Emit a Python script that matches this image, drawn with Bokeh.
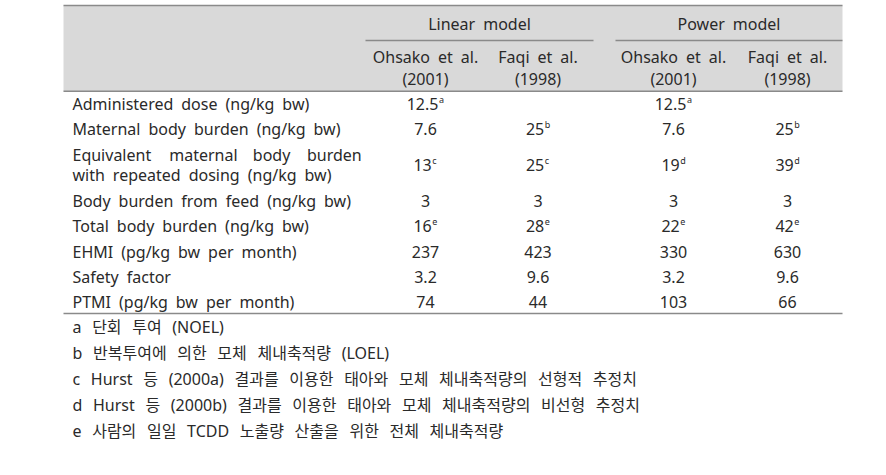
from bokeh.plotting import figure
from bokeh.models import Range1d
from bokeh.core.properties import value
from bokeh.embed import file_html
from bokeh.resources import INLINE

# ---------------- data ----------------
model_names = ["Linear model", "Power model"]
study_names = ["Ohsako et al.", "Faqi et al.", "Ohsako et al.", "Faqi et al."]
study_years = ["(2001)", "(1998)", "(2001)", "(1998)"]

row_labels = [
    ["Administered dose (ng/kg bw)"],
    ["Maternal body burden (ng/kg bw)"],
    ["Equivalent maternal body burden", "with repeated dosing (ng/kg bw)"],
    ["Body burden from feed (ng/kg bw)"],
    ["Total body burden (ng/kg bw)"],
    ["EHMI (pg/kg bw per month)"],
    ["Safety factor"],
    ["PTMI (pg/kg bw per month)"],
]

linear_ohsako = ["12.5", "7.6", "13", "3", "16", "237", "3.2", "74"]
linear_ohsako_note = ["a", "", "c", "", "e", "", "", ""]
linear_faqi = ["", "25", "25", "3", "28", "423", "9.6", "44"]
linear_faqi_note = ["", "b", "c", "", "e", "", "", ""]
power_ohsako = ["12.5", "7.6", "19", "3", "22", "330", "3.2", "103"]
power_ohsako_note = ["a", "", "d", "", "e", "", "", ""]
power_faqi = ["", "25", "39", "3", "42", "630", "9.6", "66"]
power_faqi_note = ["", "b", "d", "", "e", "", "", ""]

footnotes = [
    "a 단회 투여 (NOEL)",
    "b 반복투여에 의한 모체 체내축적량 (LOEL)",
    "c Hurst 등 (2000a) 결과를 이용한 태아와 모체 체내축적량의 선형적 추정치",
    "d Hurst 등 (2000b) 결과를 이용한 태아와 모체 체내축적량의 비선형 추정치",
    "e 사람의 일일 TCDD 노출량 산출을 위한 전체 체내축적량",
]

# ---------------- layout ----------------
W, H = 870, 459
FONT = value("Noto Sans")
KFONT = value("Noto Sans, Noto Sans CJK KR")
FS = 16
TXT = "#2a2a2a"
LINE = "#8a8a8a"
GRAY = "#d9d9d9"

left, right = 63, 842
head_top, head_bot = 5, 90.7
sub_y = 40
lin_x0, lin_x1 = 365, 593
pow_x0, pow_x1 = 615, 842
col_x = [425, 537.5, 673, 787]
label_x = 72
label_right = 357
row_h = 25.4
row_h2 = 46

# the source uses wide word spacing; mimic it with wider space characters
WIDE = "\u2002"
WIDER = "\u2002\u2009"


def wide(s, sp=WIDE):
    return s.replace(" ", sp)


# char width table (em) for Noto Sans, used for centering/justifying
CW = {c: 0.572 for c in "0123456789"}
CW.update({".": 0.268, " ": 0.26})


def est_w(s, fs):
    tot = 0.0
    for c in s:
        if c in CW:
            tot += CW[c]
        elif c in "il.,'|":
            tot += 0.26
        elif c in "ftrj()/":
            tot += 0.36
        elif c in "mwMW":
            tot += 0.86
        elif c.isupper():
            tot += 0.66
        else:
            tot += 0.56
    return tot * fs


p = figure(width=W, height=H, output_backend="svg", toolbar_location=None,
           x_range=Range1d(0, W), y_range=Range1d(H, 0),
           min_border=0, outline_line_color=None)
p.axis.visible = False
p.grid.visible = False
p.background_fill_color = "white"
p.border_fill_color = "white"

# header background
p.quad(left=[left], right=[right], top=[head_top], bottom=[head_bot],
       fill_color=GRAY, line_color=None)

# row positions
centers = []
y = head_bot
for lab in row_labels:
    h = row_h2 if len(lab) > 1 else row_h
    centers.append(y + h / 2)
    y += h
table_bottom = y - 1.5

p.segment(x0=[left, left, lin_x0, pow_x0, left], x1=[right, right, lin_x1, pow_x1, right],
          y0=[head_top, head_bot, sub_y, sub_y, table_bottom],
          y1=[head_top, head_bot, sub_y, sub_y, table_bottom],
          line_color=LINE, line_width=1.6)

# header texts
p.text(x=[(lin_x0 + lin_x1) / 2, (pow_x0 + pow_x1) / 2], y=[23, 23],
       text=[wide(m) for m in model_names],
       text_font=FONT, text_font_size=f"{FS}px", text_color=TXT,
       text_align="center", text_baseline="middle")
p.text(x=col_x, y=[56] * 4, text=[wide(s) for s in study_names], text_font=FONT,
       text_font_size=f"{FS}px", text_color=TXT, text_align="center", text_baseline="middle")
p.text(x=col_x, y=[78] * 4, text=study_years, text_font=FONT, text_font_size=f"{FS}px",
       text_color=TXT, text_align="center", text_baseline="middle")

# row labels
lx, ly, lt = [], [], []
for lab, cy in zip(row_labels, centers):
    if len(lab) == 1:
        lx.append(label_x); ly.append(cy); lt.append(wide(lab[0]))
    else:
        y1, y2 = cy - 10, cy + 10
        words = lab[0].split(" ")
        ws = [est_w(w, FS) for w in words]
        gap = (label_right - label_x - sum(ws)) / (len(words) - 1)
        xx = label_x
        for w, wd in zip(words, ws):
            lx.append(xx); ly.append(y1); lt.append(w)
            xx += wd + gap
        lx.append(label_x); ly.append(y2); lt.append(wide(lab[1]))
p.text(x=lx, y=ly, text=lt, text_align="left", text_font=FONT, text_font_size=f"{FS}px",
       text_color=TXT, text_baseline="middle")

# values with superscript notes
SUP = 9
vx, vy, vt, sx, sy, st = [], [], [], [], [], []
for cx, vals, notes in zip(col_x, [linear_ohsako, linear_faqi, power_ohsako, power_faqi],
                           [linear_ohsako_note, linear_faqi_note, power_ohsako_note, power_faqi_note]):
    for v, n, cy in zip(vals, notes, centers):
        if not v:
            continue
        wv = est_w(v, FS)
        wn = (0.56 * SUP + 0.8) if n else 0
        x0 = cx - (wv + wn) / 2
        vx.append(x0); vy.append(cy); vt.append(v)
        if n:
            sx.append(x0 + wv + 0.6); sy.append(cy - 4.5); st.append(n)
p.text(x=vx, y=vy, text=vt, text_font=FONT, text_font_size=f"{FS}px", text_color=TXT,
       text_align="left", text_baseline="middle")
p.text(x=sx, y=sy, text=st, text_font=FONT, text_font_size=f"{SUP}px", text_color=TXT,
       text_align="left", text_baseline="middle")

# footnotes
fy = [table_bottom + 13 + i * 26.2 for i in range(len(footnotes))]
p.text(x=[label_x] * len(footnotes), y=fy, text=[wide(f, WIDER) for f in footnotes],
       text_font=KFONT, text_font_size="16px", text_color=TXT, text_align="left",
       text_baseline="middle")

open("out.html", "w").write(file_html(p, INLINE))
